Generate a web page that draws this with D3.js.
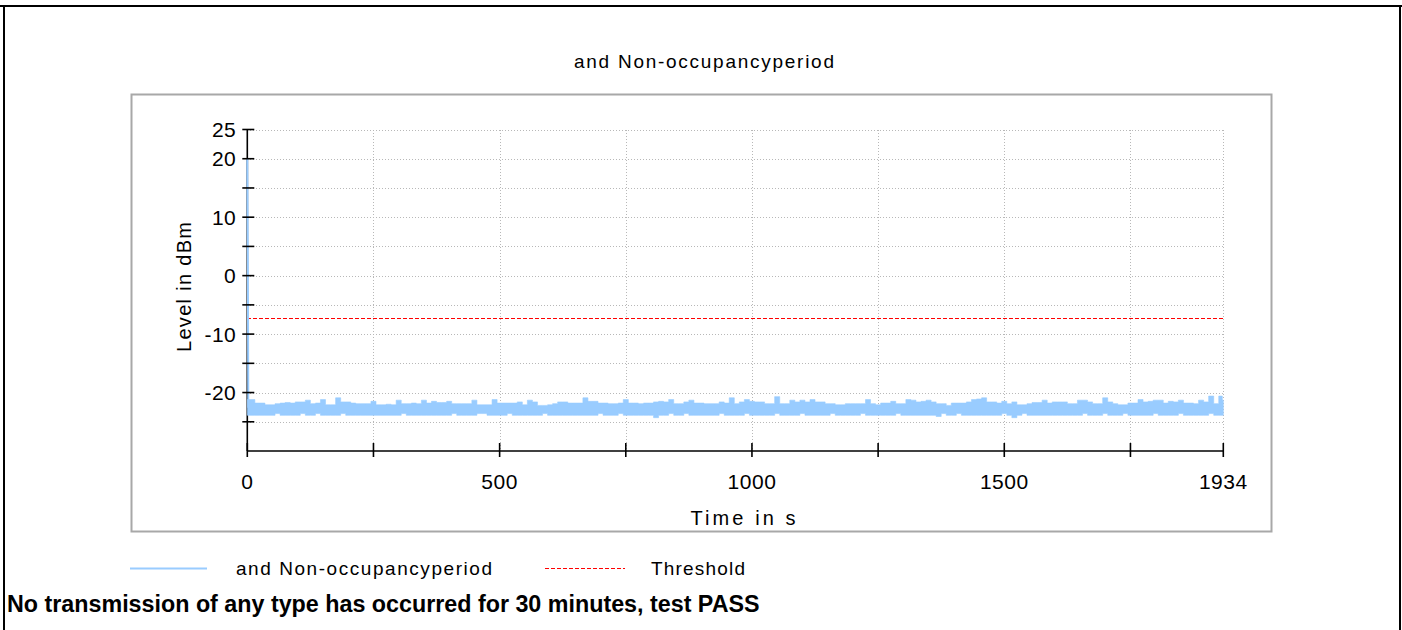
<!DOCTYPE html>
<html><head><meta charset="utf-8">
<script src="https://cdn.jsdelivr.net/npm/d3@7"></script>
<style>
html,body{margin:0;padding:0;background:#fff;overflow:hidden}
svg{display:block}
text{font-family:"Liberation Sans",Arial,sans-serif;fill:#000}
</style>
</head><body>
<svg id="c" width="1402" height="630"></svg>
<script>
// ---------------- data ----------------
const chartTitle = "and Non-occupancyperiod";
const seriesName = "and Non-occupancyperiod";
const thresholdName = "Threshold";
const xLabel = "Time in s";
const yLabel = "Level in dBm";
const footnote = "No transmission of any type has occurred for 30 minutes, test PASS";

const xDomain = [0, 1934];
const yDomain = [-30, 25];
const xTickValues = [0, 250, 500, 750, 1000, 1250, 1500, 1750, 1934];
const xTickLabels = [0, 500, 1000, 1500, 1934];
const xGridValues = [250, 500, 750, 1000, 1250, 1500, 1750, 1934];
const yTickValues = [25, 20, 15, 10, 5, 0, -5, -10, -15, -20, -25];
const yTickLabels = [25, 20, 10, 0, -10, -20];

const thresholdLevel = -7.2;

// first seconds: level falls from the burst to the noise floor
const onsetTimes = [0, 1, 2];
const onsetLevels = [20, 3.5, -22.6];

// noise-floor envelope, one value per 10 s (last sample at 1934 s)
const envelopeStep = 10;
const envelopeEnd = 1934;
const levelMax = [
-21.2,-21.2,-21.8,-21.8,-22.1,-22.1,-21.9,-21.8,-21.7,-21.8,
-21.6,-21.6,-21.3,-21.9,-21.8,-21.2,-22.1,-22.1,-20.9,-21.6,
-21.6,-21.8,-21.9,-21.9,-21.9,-21.5,-22.1,-22.1,-22.0,-22.1,
-21.3,-21.9,-21.9,-21.8,-21.9,-21.3,-21.8,-21.5,-21.7,-21.7,
-21.5,-21.9,-21.9,-21.9,-21.9,-21.3,-22.1,-22.1,-22.1,
-21.2,-21.8,-21.8,-21.8,-21.8,-21.6,-22.1,-21.3,-21.6,-22.2,
-22.2,-22.1,-21.9,-21.6,-21.6,-21.8,-21.8,-21.8,-20.9,-21.5,
-21.5,-21.8,-21.8,-21.9,-21.9,-21.8,-21.2,-21.8,-21.8,-21.9,
-21.8,-21.8,-21.6,-21.5,-21.6,-21.2,-21.9,-21.9,-21.6,-21.3,
-21.8,-21.8,-21.9,-21.9,-21.9,-21.6,-21.8,-20.9,
-21.9,-21.6,-21.2,-21.5,-21.6,-21.6,-21.9,-21.9,-20.7,-21.9,
-21.9,-21.3,-21.6,-21.3,-21.6,-21.2,-21.6,-21.6,-21.9,-21.9,
-22.1,-22.1,-21.9,-21.9,-21.9,-21.9,-21.2,-21.9,-22.1,-21.8,
-21.8,-21.5,-21.9,-21.9,-21.2,-21.3,-21.6,-21.5,-21.3,-21.6,
-21.9,-21.9,-22.2,-21.8,-21.8,-21.8,-21.6,-21.2,-21.1,
-20.9,-21.6,-21.6,-21.8,-21.5,-21.9,-21.6,-22.1,-22.1,-21.9,
-21.7,-21.7,-21.3,-21.8,-21.6,-21.6,-21.6,-21.9,-21.9,-21.3,
-21.3,-21.6,-21.9,-21.9,-20.9,-21.6,-21.9,-22.1,-22.1,-21.8,
-21.8,-21.2,-21.6,-21.5,-21.3,-21.3,-21.8,-21.5,-21.6,-21.3,
-21.8,-21.8,-21.9,-21.3,-21.6,-20.6,-21.9,-20.6,-21.3
];
const levelMin = [
-23.9,-23.9,-23.9,-23.9,-23.9,-23.9,-23.6,-23.9,-23.9,-23.9,
-23.9,-23.6,-23.9,-23.9,-23.6,-23.9,-23.9,-23.9,-23.9,-23.6,
-23.9,-23.9,-23.9,-23.9,-23.9,-23.9,-23.9,-23.9,-23.9,-23.9,
-23.9,-23.6,-23.9,-23.9,-23.9,-23.9,-23.9,-23.9,-23.9,-23.9,
-23.9,-23.6,-23.9,-23.9,-23.9,-23.9,-23.6,-23.6,-23.9,-23.9,
-23.9,-23.9,-23.6,-23.9,-23.9,-23.9,-23.9,-23.9,-23.9,-23.6,
-23.9,-23.9,-23.9,-23.9,-23.9,-23.9,-23.9,-23.9,-23.9,-23.9,
-23.6,-23.9,-23.9,-23.9,-23.6,-23.9,-23.9,-23.9,-23.9,-23.9,
-23.9,-24.3,-23.9,-23.9,-23.6,-23.9,-23.9,-23.6,-23.9,-23.9,
-23.9,-23.9,-23.9,-23.9,-23.6,-23.9,-23.9,-23.9,-23.9,-23.6,
-23.9,-23.9,-23.9,-23.9,-23.9,-23.6,-23.9,-23.9,-23.9,-23.9,
-23.6,-23.9,-23.9,-23.9,-23.9,-23.9,-23.6,-23.9,-23.9,-23.9,
-23.9,-23.9,-23.6,-23.9,-23.9,-23.9,-23.9,-23.9,-23.9,-23.6,
-23.9,-23.9,-23.9,-23.9,-23.9,-23.9,-23.9,-24.1,-23.6,-23.9,
-23.9,-23.6,-23.9,-23.9,-23.9,-23.9,-23.9,-23.9,-23.9,-23.9,
-23.6,-23.9,-24.3,-23.9,-23.6,-23.9,-23.9,-23.9,-23.9,-23.9,
-23.9,-23.9,-23.9,-23.9,-23.9,-23.9,-23.6,-23.9,-23.9,-23.9,
-23.6,-23.9,-23.9,-23.9,-23.6,-23.9,-23.9,-23.9,-23.9,-23.9,
-23.6,-23.9,-23.9,-23.9,-23.9,-23.6,-23.9,-23.9,-23.9,-23.9,
-23.9,-23.6,-23.9,-23.9,-23.9
];

// ---------------- drawing ----------------
const svg = d3.select("#c");
const blue = "#99ccff", red = "#ff0000", gridCol = "#b8b8b8";
const px = v => Math.round(v) + 0.5;

// outer page frame
svg.append("line").attr("x1",0).attr("x2",1402).attr("y1",6).attr("y2",6).attr("stroke","#000").attr("stroke-width",2);
svg.append("line").attr("x1",4).attr("x2",4).attr("y1",6).attr("y2",630).attr("stroke","#000").attr("stroke-width",2);
svg.append("line").attr("x1",1400).attr("x2",1400).attr("y1",6).attr("y2",630).attr("stroke","#000").attr("stroke-width",2);

// chart box
svg.append("rect").attr("x",131.5).attr("y",94.5).attr("width",1140).attr("height",437)
  .attr("fill","#fff").attr("stroke","#a8a8a8").attr("stroke-width",2);

const x = d3.scaleLinear().domain(xDomain).range([247.3, 1223.3]);
const y = d3.scaleLinear().domain(yDomain).range([451, 129.5]);

function fitText(sel, w){ sel.attr("textLength", w).attr("lengthAdjust","spacing"); return sel; }

// title
fitText(svg.append("text").attr("x",704).attr("y",61).attr("text-anchor","middle")
  .attr("dominant-baseline","central").attr("font-size",19).text(chartTitle), 260);

// grid
const g = svg.append("g").attr("shape-rendering","crispEdges");
g.selectAll(".hg").data(yTickValues).join("line")
  .attr("x1",x(xDomain[0])).attr("x2",x(xDomain[1]))
  .attr("y1",d=>px(y(d))).attr("y2",d=>px(y(d)))
  .attr("stroke",gridCol).attr("stroke-width",1).attr("stroke-dasharray","1,2");
g.selectAll(".vg").data(xGridValues).join("line")
  .attr("x1",d=>px(x(d))).attr("x2",d=>px(x(d)))
  .attr("y1",y(yDomain[1])).attr("y2",y(yDomain[0]))
  .attr("stroke",gridCol).attr("stroke-width",1).attr("stroke-dasharray","1,2");

// axis lines
svg.append("line").attr("x1",x(0)).attr("x2",x(0)).attr("y1",y(yDomain[1])).attr("y2",y(yDomain[0]))
  .attr("stroke","#000").attr("stroke-width",1.6);
svg.append("line").attr("x1",x(xDomain[0])).attr("x2",x(xDomain[1])).attr("y1",y(yDomain[0])).attr("y2",y(yDomain[0]))
  .attr("stroke","#000").attr("stroke-width",1.6);

// threshold
svg.append("line").attr("x1",x(xDomain[0])).attr("x2",x(xDomain[1]))
  .attr("y1",px(y(thresholdLevel))).attr("y2",px(y(thresholdLevel)))
  .attr("shape-rendering","crispEdges")
  .attr("stroke",red).attr("stroke-width",1.4).attr("stroke-dasharray","4,2");

// series
const envelope = levelMax.map((hi,i)=>({t: Math.min(i*envelopeStep, envelopeEnd), hi, lo: levelMin[i]}));
svg.append("path").datum(envelope)
  .attr("d", d3.area().x(d=>x(d.t)).y0(d=>y(d.lo)).y1(d=>y(d.hi)).curve(d3.curveStep))
  .attr("fill",blue).attr("stroke",blue).attr("stroke-width",0.6);
const onset = onsetTimes.map((t,i)=>({t, v: onsetLevels[i]}));
svg.append("path").datum(onset)
  .attr("d", d3.line().x(d=>x(d.t)).y(d=>y(d.v)))
  .attr("fill","none").attr("stroke",blue).attr("stroke-width",2);

// ticks
svg.selectAll(".yt").data(yTickValues).join("line")
  .attr("x1",x(0)-5).attr("x2",x(0)+7).attr("y1",d=>y(d)).attr("y2",d=>y(d))
  .attr("stroke","#000").attr("stroke-width",1.6);
svg.selectAll(".xt").data(xTickValues).join("line")
  .attr("x1",d=>x(d)).attr("x2",d=>x(d)).attr("y1",y(yDomain[0])-8).attr("y2",y(yDomain[0])+6)
  .attr("stroke","#000").attr("stroke-width",1.6);

// tick labels
svg.selectAll(".yl").data(yTickLabels).join("text")
  .attr("x",x(0)-11).attr("y",d=>y(d)).attr("text-anchor","end").attr("dominant-baseline","central")
  .attr("font-size",21).attr("letter-spacing",0.5).text(d=>d);
svg.selectAll(".xl").data(xTickLabels).join("text")
  .attr("x",d=>x(d)).attr("y",481).attr("text-anchor","middle").attr("dominant-baseline","central")
  .attr("font-size",21).attr("letter-spacing",0.5).text(d=>d);

// axis titles
fitText(svg.append("text").attr("x",743).attr("y",518).attr("text-anchor","middle").attr("dominant-baseline","central")
  .attr("font-size",20).text(xLabel), 105);
fitText(svg.append("text").attr("transform","translate(184,287) rotate(-90)").attr("text-anchor","middle")
  .attr("dominant-baseline","central").attr("font-size",20).text(yLabel), 130);

// legend
svg.append("line").attr("x1",130).attr("x2",207).attr("y1",568.5).attr("y2",568.5).attr("stroke",blue).attr("stroke-width",2);
fitText(svg.append("text").attr("x",236).attr("y",568).attr("dominant-baseline","central").attr("font-size",19).text(seriesName),256);
svg.append("line").attr("x1",545).attr("x2",625).attr("y1",568.5).attr("y2",568.5).attr("shape-rendering","crispEdges")
  .attr("stroke",red).attr("stroke-width",1.4).attr("stroke-dasharray","4,2");
fitText(svg.append("text").attr("x",651).attr("y",568).attr("dominant-baseline","central").attr("font-size",19).text(thresholdName),94);

// footnote
const fn = svg.append("text").attr("x",7).attr("y",604).attr("dominant-baseline","central")
  .attr("font-size",18).attr("font-weight","bold").text(footnote);
const w0 = fn.node().getComputedTextLength();
fn.attr("font-size", 18*753/w0);
</script>
</body></html>
